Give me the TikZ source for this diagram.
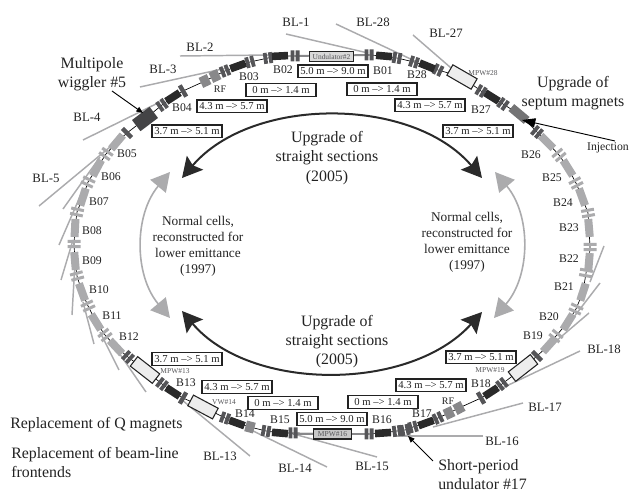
\documentclass[tikz,border=0pt]{standalone}
\usepackage{fontspec}
\setmainfont{Liberation Serif}
\usetikzlibrary{arrows.meta}
\definecolor{grayA}{HTML}{ABABAD}
\definecolor{grayB}{HTML}{555558}
\definecolor{grayC}{HTML}{88888A}
\definecolor{grayD}{HTML}{2A2A2A}
\definecolor{inkc}{HTML}{222222}
\tikzset{
  bl/.style={draw=grayA,line width=1.1pt},
  blab/.style={inner sep=0pt,text=inkc,font=\fontsize{8.8}{10}\selectfont},
  bll/.style={inner sep=0pt,text=inkc,font=\fontsize{9.6}{11}\selectfont},
  big/.style={inner sep=0pt,text=inkc,align=center,font=\fontsize{11.9}{14.4}\selectfont},
  mid/.style={inner sep=0pt,text=inkc,align=center,font=\fontsize{10}{11.9}\selectfont},
  rng/.style={draw=inkc,line width=0.9pt,fill=white,inner sep=0pt,minimum width=52.5pt,minimum height=9.6pt,text=inkc,font=\fontsize{8}{9}\selectfont},
  tag/.style={inner sep=0pt,text=grayB,font=\fontsize{5.6}{6}\selectfont},
  wbox/.style={draw=inkc,line width=0.8pt,fill=black!7,minimum width=21pt,minimum height=9pt,inner sep=0pt},
  dq/.pic={\fill[grayB] (-4.5,-5.5) rectangle (-0.7,5.5) (0.7,-5.5) rectangle (4.5,5.5);},
  lq/.pic={\fill[grayC] (-4.5,-5.5) rectangle (4.5,5.5);},
  sq/.pic={\fill[grayB] (-2.2,-6.5) rectangle (2.2,6.5);},
  bk/.pic={\fill[grayD] (-8,-3.8) rectangle (8,3.8);},
  lng/.pic={\fill[grayA] (-9,-4) rectangle (9,4);},
  gd/.pic={\fill[grayA] (-4.2,-6.5) rectangle (-1.2,6.5) (1.2,-6.5) rectangle (4.2,6.5);},
  wig/.pic={\fill[grayB!80!black] (-11,-7) rectangle (11,7);},
  sep/.pic={\fill[grayC!85!black] (-10,-4.5) rectangle (10,4.5);},
  darrow/.style={draw=grayD,line width=1.5pt,{Stealth[length=15pt,width=16pt,inset=2.5pt]}-{Stealth[length=15pt,width=16pt,inset=2.5pt]}},
  garrow/.style={draw=grayA,line width=1.2pt,{Triangle[length=14pt,width=15pt]}-{Triangle[length=14pt,width=15pt]}},
  thinarrow/.style={draw=black,line width=0.7pt,-{Triangle[length=5pt,width=4pt]}},
}
\begin{document}
\begin{tikzpicture}[x=0.75pt,y=-0.75pt]
\useasboundingbox (0,0) rectangle (633,491);
% beam-line frontends
\draw[bl] (286,34)--(368,53);
\draw[bl] (180,56)--(270,55);
\draw[bl] (140,87)--(227,68);
\draw[bl] (83,140)--(160,102);
\draw[bl] (39,206)--(110,147);
\draw[bl] (63,209)--(100,157);
\draw[bl] (59,245)--(82,192);
\draw[bl] (61,280)--(73,240);
\draw[bl] (72,315)--(75,263);
\draw[bl] (94,344)--(83,302);
\draw[bl] (119,370)--(100,332);
\draw[bl] (146,392)--(117,350);
\draw[bl] (250,456)--(182,400);
\draw[bl] (327,467)--(247,428);
\draw[bl] (377,457)--(290,433);
\draw[bl] (483,436)--(393,436);
\draw[bl] (523,403)--(433,427);
\draw[bl] (580,351)--(498,390);
\draw[bl] (589,313)--(555,342);
\draw[bl] (600,283)--(570,322);
\draw[bl] (604,246)--(590,282);
\draw[bl] (413,35)--(473,87);
\draw[bl] (336,24)--(417,62);
% ring line
\draw[black,line width=0.5pt] (295,56)--(280,56)--(268,58)--(250,62)--(238,66)--(225,71)--(215,76)--(205,81)--(183,91)--(173,97)--(162,105)--(145,119)--(127,133)--(117,142)--(106,154)--(97,168)--(88,182)--(83,197)--(77,212)--(75,228)--(74,244)--(75,261)--(77,276)--(82,292)--(88,306)--(96,322)--(105,335)--(116,347)--(128,357)--(145,370)--(162,384)--(173,392)--(183,398)--(203,407)--(225,418)--(237,423)--(250,427)--(266,431)--(280,433)--(293,433)--(369,434)--(383,433)--(397,431)--(405,430)--(413,427)--(426,423)--(438,418)--(449,413)--(459,408)--(481,398)--(491,392)--(502,384)--(523,368)--(537,356)--(549,345)--(556,336)--(568,322)--(576,309)--(583,292)--(586,273)--(589,262)--(590,247)--(589,228)--(588,213)--(582,197)--(576,183)--(568,168)--(559,155)--(547,142)--(537,132)--(519,114)--(503,104)--(492,97)--(481,91)--(462,77)--(438,70)--(427,66)--(414,62)--(397,58)--(384,56)--(369,55)--cycle;
\draw[grayC,line width=1.4pt] (295,56)--(369,55);
\draw[grayC,line width=1.4pt] (293,434)--(369,434);
% ring elements
\foreach \x/\y/\a in {369/55/0,295/56/0,268/58/8,250/62/15,225/71/22,162/105/35,225/418/-20,266/431/-10,293/433/0,369/434/0,397/431/8,405/430/12,413/427/15,438/418/25,502/384/38,503/104/-35,481/91/-30,438/70/-25,414/62/-18,397/58/-10,128/357/-42,162/384/-38,537/132/-40}
  \path (\x,\y) pic[rotate=\a]{dq};
\foreach \x/\y/\a in {215/76/25,205/81/25,250/427/-15,449/413/25,459/408/28}
  \path (\x,\y) pic[rotate=\a]{lq};
\foreach \x/\y/\a in {183/91/30,127/133/45,183/398/-30,481/398/30,537/356/45}
  \path (\x,\y) pic[rotate=\a]{sq};
\foreach \x/\y/\a in {280/56/3,238/66/20,173/97/33,173/392/-33,237/423/-20,280/433/-5,383/433/4,426/423/20,491/392/33,492/97/-32,427/66/-22,384/56/-5}
  \path (\x,\y) pic[rotate=\a]{bk};
\foreach \x/\y/\a in {117/142/50,97/168/62,83/197/72,75/228/87,75/261/-85,82/292/-70,96/322/-58,116/347/-47,549/345/48,568/322/58,583/292/72,589/262/85,589/228/95,582/197/110,568/168/122,547/142/135}
  \path (\x,\y) pic[rotate=\a]{lng};
\foreach \x/\y/\a in {106/154/55,88/182/65,77/212/78,74/244/90,77/276/-75,88/306/-65,105/335/-52,556/336/52,576/309/65,586/273/80,590/247/90,588/213/100,576/183/118,559/155/130}
  \path (\x,\y) pic[rotate=\a]{gd};
\path (145,119) pic[rotate=37]{wig};
\path (519,114) pic[rotate=-40]{sep};
\node[wbox,rotate=-38] (w13) at (145,370) {};
\node[wbox,rotate=-28] (w14) at (203,407) {};
\node[wbox,rotate=38] (w19) at (523,368) {};
\node[wbox,rotate=-30] (w28) at (462,77) {};
\node[draw=inkc,line width=0.7pt,fill=black!15,minimum width=33pt,minimum height=7pt,inner sep=0pt,text=grayB,font=\fontsize{5.6}{6}\selectfont] (und2) at (331.5,56.5) {Undulator\#2};
\node[draw=inkc,line width=0.8pt,fill=black!22,minimum width=29pt,minimum height=7.5pt,inner sep=0pt,text=grayB,font=\fontsize{5.6}{6}\selectfont] (mpw16) at (332.5,434) {MPW\#16};
% big arrows
\coordinate (ua) at (182,178);
\coordinate (ub) at (482,178);
\coordinate (la) at (182,311);
\coordinate (lb) at (482,312);
\coordinate (ga) at (170,172);
\coordinate (gb) at (170,318);
\coordinate (gc) at (495,172);
\coordinate (gd) at (494,318);
\draw[darrow] (ua) .. controls (252,96) and (412,96) .. (ub);
\draw[darrow] (la) .. controls (250,392) and (410,392) .. (lb);
\draw[garrow] (ga) .. controls (134,215) and (134,275) .. (gb);
\draw[garrow] (gc) .. controls (531,215) and (531,275) .. (gd);
% range boxes
\node[rng] (r1) at (333,71.5) {5.0 m –> 9.0 m};
\node[rng] (r2) at (281,90) {0 m –> 1.4 m};
\node[rng] (r3) at (232,106.5) {4.3 m –> 5.7 m};
\node[rng] (r4) at (187,131.5) {3.7 m –> 5.1 m};
\node[rng] (r5) at (382,89.5) {0 m –> 1.4 m};
\node[rng] (r6) at (430,105.5) {4.3 m –> 5.7 m};
\node[rng] (r7) at (478,131.5) {3.7 m –> 5.1 m};
\node[rng] (r8) at (187,359) {3.7 m –> 5.1 m};
\node[rng] (r9) at (237,387) {4.3 m –> 5.7 m};
\node[rng] (r10) at (283,403) {0 m –> 1.4 m};
\node[rng] (r11) at (332,419) {5.0 m –> 9.0 m};
\node[rng] (r12) at (383,402) {0 m –> 1.4 m};
\node[rng] (r13) at (431,385.5) {4.3 m –> 5.7 m};
\node[rng] (r14) at (481,357.5) {3.7 m –> 5.1 m};
% B labels
\foreach \t/\x/\y in {01/383/71,28/417/75,27/481/110,02/283/70,03/249/77,04/182/108,05/127/154,06/111/177,07/99/202,08/92/231,09/92/261,10/99/290,11/112/316,12/129/337,13/186/383,14/245/414,15/280/420,16/382/420,17/422/414,18/481/384,19/533/336,20/549/317,21/564/287,22/569/259,23/569/228,24/563/203,25/552/178,26/531/155}
  \node[blab] (B\t) at (\x,\y) {B\t};
\node[blab,font=\fontsize{7.5}{9}\selectfont] (rf1) at (220,89) {RF};
\node[blab,font=\fontsize{7.5}{9}\selectfont] (rf2) at (448,401) {RF};
% BL labels
\foreach \t/\x/\y in {1/296/22,28/373/22,27/446/33,2/200/47,3/163/69,4/87/117,5/46/178,13/220/456,14/295/468,15/372/466,16/502/441,17/545/407,18/604/349}
  \node[bll] (L\t) at (\x,\y) {BL-\t};
% small tags
\node[tag] (t28) at (483,73) {MPW\#28};
\node[tag] (t13) at (175,371) {MPW\#13};
\node[tag] (t14) at (224,402) {VW\#14};
\node[tag] (t19) at (490,370) {MPW\#19};
% texts
\node[big] (wig5) at (92,74.5) {Multipole\\wiggler \#5};
\node[big] (sept) at (573,93.5) {Upgrade of\\septum magnets};
\node[blab] (inj) at (608,148) {Injection};
\node[big] (up1) at (327,158) {Upgrade of\\straight sections\\(2005)};
\node[big] (up2) at (337,341.5) {Upgrade of\\straight sections\\(2005)};
\node[mid] (nc1) at (198,246.5) {Normal cells,\\reconstructed for\\lower emittance\\(1997)};
\node[mid] (nc2) at (467,242.5) {Normal cells,\\reconstructed for\\lower emittance\\(1997)};
\node[big,anchor=west] (rq) at (10,425) {Replacement of Q magnets};
\node[big,anchor=west,align=left] (rb) at (11,462.5) {Replacement of beam-line\\frontends};
\node[big,anchor=west,align=left] (sp) at (438,474.5) {Short-period\\undulator \#17};
% pointer arrows
\coordinate (p1) at (112,91);
\coordinate (p2) at (143,113);
\coordinate (p3) at (615,141);
\coordinate (p4) at (522,120);
\coordinate (p5) at (433,461);
\coordinate (p6) at (408,436);
\draw[thinarrow] (p1)--(p2);
\draw[thinarrow,-{Triangle[length=10pt,width=7pt]}] (p3)--(p4);
\draw[thinarrow] (p5)--(p6);
\end{tikzpicture}
\end{document}
